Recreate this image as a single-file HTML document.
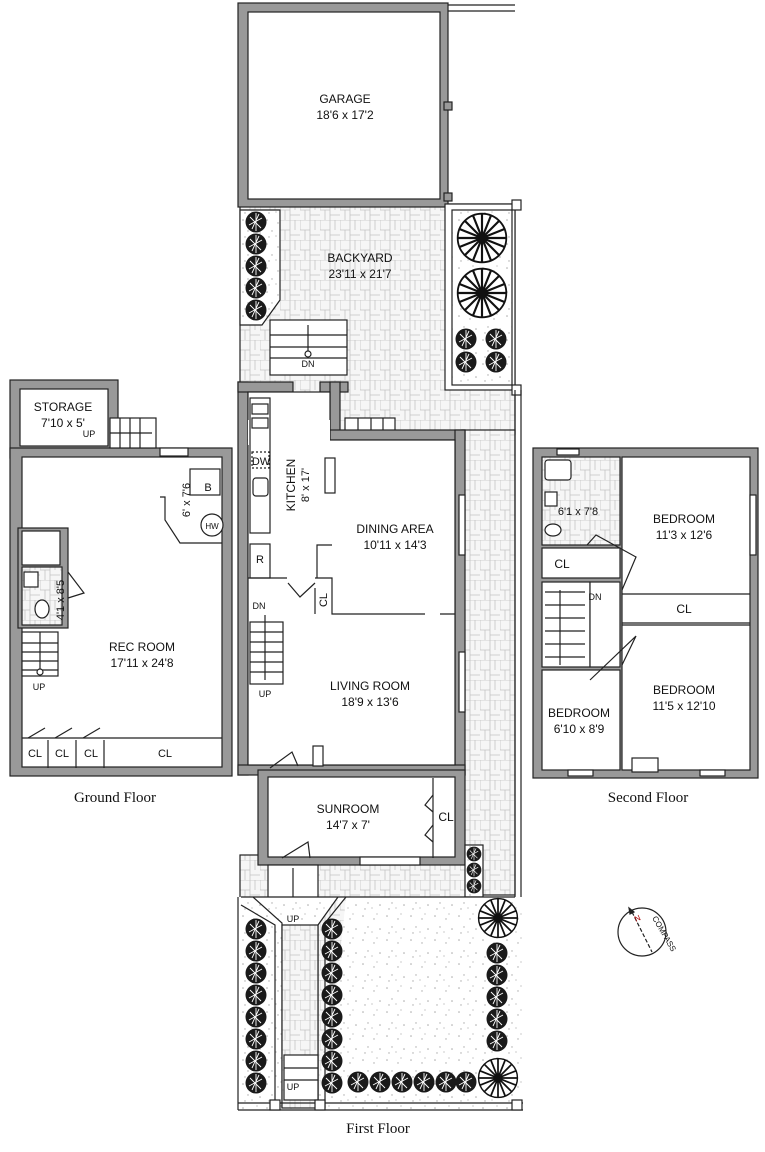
<!DOCTYPE html>
<html><head><meta charset="utf-8"><style>
html,body{margin:0;padding:0;background:#fff;}
svg{display:block;}
text{font-family:"Liberation Sans",Arial,sans-serif;fill:#111;}
.t{font-size:12px;text-anchor:middle;}
.s{font-size:11px;text-anchor:middle;}
.cap{font-family:"Liberation Serif",serif;font-size:15px;text-anchor:middle;}
</style></head><body>
<svg width="765" height="1152" viewBox="0 0 765 1152" xmlns="http://www.w3.org/2000/svg">
<defs>
<pattern id="pave" width="20" height="20" patternUnits="userSpaceOnUse">
<rect width="20" height="20" fill="#f6f6f6"/>
<path d="M0 0H20M0 10H10M10 0V20M0 0V10M5 10V20M10 15H20M15 0V10" stroke="#c4c4c4" stroke-width="0.8" fill="none"/>
</pattern>
<pattern id="grav" width="24" height="24" patternUnits="userSpaceOnUse">
<rect width="24" height="24" fill="#fff"/>
<g fill="#aaa"><circle cx="3" cy="4" r="0.8"/><circle cx="14" cy="7" r="0.7"/><circle cx="20" cy="17" r="0.8"/><circle cx="8" cy="15" r="0.7"/><circle cx="17" cy="2" r="0.6"/><circle cx="5" cy="21" r="0.7"/><circle cx="12" cy="20" r="0.6"/></g>
</pattern>
<g id="sh"><circle r="10.5" fill="#1a1a1a"/><path d="M-6-5L5 6M-7 3L6-4M0-9V9M-4 7L3-8" stroke="#fff" stroke-width="0.9"/></g>
<g id="tr"><circle r="27" fill="#fff" stroke="#111" stroke-width="2"/><path d="M0-27V27M-27 0H27M-19-19L19 19M-19 19L19-19M-10-25L10 25M-25-10L25 10M-25 10L25-10M-10 25L10-25" stroke="#111" stroke-width="2.4"/></g>
</defs>
<g stroke="#222" stroke-width="1.2">

<rect x="240" y="204" width="275" height="230" fill="url(#pave)"/>
<rect x="462" y="430" width="53" height="465" fill="url(#pave)"/>
<rect x="240" y="855" width="230" height="45" fill="url(#pave)"/>
<rect x="238" y="3" width="210" height="204" fill="#999"/>
<rect x="248" y="12" width="192" height="187" fill="#fff"/>
<line x1="448" y1="5" x2="515" y2="5"/>
<line x1="448" y1="11" x2="515" y2="11"/>
<rect x="444" y="102" width="8" height="8" fill="#999"/>
<rect x="444" y="193" width="8" height="8" fill="#999"/>
<path d="M240 210H280V300L262 325H240Z" fill="url(#grav)"/>
<rect x="445" y="204" width="70" height="186" fill="#fff"/>
<rect x="452" y="210" width="60" height="175" fill="url(#grav)"/>
<rect x="512" y="200" width="9" height="10" fill="#fff"/>
<rect x="512" y="385" width="9" height="10" fill="#fff"/>
<line x1="515" y1="390" x2="515" y2="1110"/>
<line x1="521" y1="390" x2="521" y2="1110"/>
<rect x="270" y="320" width="77" height="55" fill="#fff"/>
<path d="M270 335H347M270 347H347M270 358H347" fill="none"/>
<line x1="308" y1="325" x2="308" y2="356"/>
<circle cx="308" cy="354" r="3" fill="#fff"/>
<rect x="345" y="418" width="50" height="32" fill="#fff"/>
<path d="M358 418V450M371 418V450M383 418V450" fill="none"/>

<rect x="238" y="382" width="10" height="393" fill="#999"/>
<rect x="238" y="382" width="55" height="10" fill="#999"/>
<rect x="320" y="382" width="28" height="10" fill="#999"/>
<rect x="330" y="382" width="10" height="60" fill="#999"/>
<rect x="330" y="430" width="135" height="10" fill="#999"/>
<rect x="455" y="430" width="10" height="345" fill="#999"/>
<rect x="238" y="765" width="227" height="10" fill="#999"/>
<rect x="248" y="392" width="82" height="48" fill="#fff"/>
<rect x="248" y="440" width="207" height="325" fill="#fff"/>
<rect x="248" y="420" width="82" height="25" fill="#fff" stroke="none"/>
<rect x="459" y="495" width="6" height="60" fill="#fff"/>
<rect x="459" y="652" width="6" height="60" fill="#fff"/>
<rect x="250" y="398" width="20" height="135" fill="#fff"/>
<rect x="250" y="544" width="20" height="34" fill="#fff"/>
<rect x="252" y="452" width="17" height="16" fill="#fff" stroke-dasharray="2 2"/>
<rect x="253" y="478" width="15" height="18" fill="#fff" rx="3"/>
<rect x="252" y="404" width="16" height="10" fill="#fff"/><rect x="252" y="418" width="16" height="10" fill="#fff"/>
<rect x="325" y="458" width="10" height="35" fill="#fff"/>
<path d="M248 578H287M315 578H332V614H425M440 614H455" fill="none"/>
<path d="M332 545H317V578" fill="none"/>
<path d="M315 588V614" fill="none"/>
<rect x="250" y="622" width="33" height="62" fill="#fff"/>
<path d="M250 632H283M250 642H283M250 652H283M250 662H283M250 672H283" fill="none"/>
<line x1="265" y1="615" x2="265" y2="680"/>
<path d="M288 583L300 597L315 583" fill="none"/>
<path d="M270 768L292 752L298 766" fill="none"/>
<rect x="313" y="746" width="10" height="20" fill="#fff"/>

<rect x="258" y="770" width="207" height="95" fill="#999"/>
<rect x="268" y="777" width="187" height="80" fill="#fff"/>
<path d="M433 778V858" fill="none"/>
<path d="M433 795L425 805L433 812M433 825L425 835L433 842" fill="none"/>
<rect x="360" y="857" width="60" height="8" fill="#fff"/>
<path d="M282 858L308 842L310 858" fill="none"/>
<rect x="268" y="865" width="50" height="43" fill="#fff"/>
<line x1="293" y1="868" x2="293" y2="905"/>
<circle cx="293" cy="905" r="3" fill="#fff"/>
<rect x="465" y="845" width="18" height="52" fill="url(#grav)"/>
<rect x="238" y="897" width="285" height="213" fill="url(#grav)" stroke="none"/>
<path d="M241 905L275 925V1108M282 1108V923L253 897" fill="none"/>
<path d="M325 1108V923L346 897M318 1108V925L338 897" fill="url(#pave)"/>
<rect x="282" y="925" width="36" height="183" fill="url(#pave)"/>
<path d="M241 897H515" fill="none"/>
<rect x="284" y="1055" width="34" height="45" fill="#fff"/>
<path d="M284 1068H318M284 1080H318" fill="none"/>
<line x1="238" y1="1103" x2="523" y2="1103"/>
<line x1="238" y1="1110" x2="523" y2="1110"/>
<line x1="238" y1="897" x2="238" y2="1110"/>
<rect x="270" y="1100" width="10" height="10" fill="#fff"/>
<rect x="315" y="1100" width="10" height="10" fill="#fff"/>
<rect x="512" y="1100" width="10" height="10" fill="#fff"/>
</g>

<use href="#sh" x="256" y="222"/><use href="#sh" x="256" y="244"/><use href="#sh" x="256" y="266"/><use href="#sh" x="256" y="288"/><use href="#sh" x="256" y="310"/>
<use href="#sh" x="466" y="339"/><use href="#sh" x="496" y="339"/><use href="#sh" x="466" y="362"/><use href="#sh" x="496" y="362"/>
<use href="#tr" transform="translate(482 238) scale(0.9)"/>
<use href="#tr" transform="translate(482 293) scale(0.9)"/>
<use href="#sh" transform="translate(474 854) scale(0.7)"/>
<use href="#sh" transform="translate(474 870) scale(0.7)"/>
<use href="#sh" transform="translate(474 886) scale(0.7)"/>
<g>
<use href="#sh" x="256" y="929"/><use href="#sh" x="256" y="951"/><use href="#sh" x="256" y="973"/><use href="#sh" x="256" y="995"/><use href="#sh" x="256" y="1017"/><use href="#sh" x="256" y="1039"/><use href="#sh" x="256" y="1061"/><use href="#sh" x="256" y="1083"/>
<use href="#sh" x="332" y="929"/><use href="#sh" x="332" y="951"/><use href="#sh" x="332" y="973"/><use href="#sh" x="332" y="995"/><use href="#sh" x="332" y="1017"/><use href="#sh" x="332" y="1039"/><use href="#sh" x="332" y="1061"/><use href="#sh" x="332" y="1083"/>
<use href="#sh" x="358" y="1082"/><use href="#sh" x="380" y="1082"/><use href="#sh" x="402" y="1082"/><use href="#sh" x="424" y="1082"/><use href="#sh" x="446" y="1082"/><use href="#sh" x="466" y="1082"/>
<use href="#sh" x="497" y="953"/><use href="#sh" x="497" y="975"/><use href="#sh" x="497" y="997"/><use href="#sh" x="497" y="1019"/><use href="#sh" x="497" y="1041"/>
</g>
<use href="#tr" transform="translate(498 918) scale(0.72)"/>
<use href="#tr" transform="translate(498 1078) scale(0.72)"/>
<text class="t" x="345" y="103">GARAGE</text><text class="t" x="345" y="119">18'6 x 17'2</text>
<text class="t" x="360" y="262">BACKYARD</text><text class="t" x="360" y="278">23'11 x 21'7</text>
<text class="s" x="308" y="367" style="font-size:9px">DN</text>
<text class="t" x="295" y="485" transform="rotate(-90 295 485)">KITCHEN</text>
<text class="s" x="309" y="485" transform="rotate(-90 309 485)">8' x 17'</text>
<text class="s" x="261" y="465">DW</text><text class="s" x="260" y="563">R</text>
<text class="t" x="395" y="533">DINING AREA</text><text class="t" x="395" y="549">10'11 x 14'3</text>
<text class="s" x="327" y="600" transform="rotate(-90 327 600)">CL</text>
<text class="s" x="259" y="609" style="font-size:9px">DN</text><text class="s" x="265" y="697" style="font-size:9px">UP</text>
<text class="t" x="370" y="690">LIVING ROOM</text><text class="t" x="370" y="706">18'9 x 13'6</text>
<text class="t" x="348" y="813">SUNROOM</text><text class="t" x="348" y="829">14'7 x 7'</text>
<text class="t" x="446" y="821">CL</text>
<text class="s" x="293" y="922" style="font-size:9px">UP</text><text class="s" x="293" y="1090" style="font-size:9px">UP</text>
<text class="cap" x="378" y="1133">First Floor</text>

<g stroke="#222" stroke-width="1.2">
<rect x="10" y="380" width="108" height="78" fill="#999"/>
<rect x="10" y="448" width="222" height="328" fill="#999"/>
<rect x="20" y="389" width="88" height="57" fill="#fff"/>
<rect x="22" y="457" width="200" height="310" fill="#fff"/>
<rect x="110" y="418" width="46" height="30" fill="#fff"/>
<path d="M120 418V448M130 418V448M140 418V448" fill="none"/>
<line x1="110" y1="433" x2="152" y2="433"/>
<rect x="160" y="448" width="28" height="8" fill="#fff"/>
<rect x="190" y="469" width="30" height="26" fill="#fff"/>
<path d="M160 497H165V520L180 543H222" fill="none"/>
<circle cx="212" cy="525" r="11" fill="#fff"/>
<rect x="18" y="528" width="50" height="100" fill="#999"/>
<rect x="22" y="531" width="38" height="34" fill="#fff"/>
<rect x="22" y="567" width="40" height="58" fill="url(#pave)"/>
<rect x="24" y="572" width="14" height="15" fill="#fff"/>
<ellipse cx="42" cy="609" rx="7" ry="9" fill="#fff"/>
<path d="M68 572L84 593L68 598" fill="none"/>
<rect x="22" y="632" width="36" height="44" fill="#fff"/>
<path d="M22 643H58M22 652H58M22 661H58M22 670H58" fill="none"/>
<line x1="40" y1="632" x2="40" y2="672"/>
<circle cx="40" cy="672" r="3" fill="#fff"/>
<path d="M22 738H222" fill="none"/>
<path d="M48 740V768M76 740V768M104 740V768" fill="none"/>
<path d="M28 738L45 728M55 738L72 728M83 738L100 728" fill="none"/>
</g>
<text class="t" x="63" y="411">STORAGE</text><text class="t" x="63" y="427">7'10 x 5'</text>
<text class="s" x="89" y="437" style="font-size:9px">UP</text>
<text class="s" x="208" y="491">B</text>
<text class="s" x="212" y="529" style="font-size:8px">HW</text>
<text class="s" x="190" y="500" transform="rotate(-90 190 500)">6' x 7'6</text>
<text class="s" x="64" y="600" transform="rotate(-90 64 600)">4'1 x 8'5</text>
<text class="s" x="39" y="690" style="font-size:9px">UP</text>
<text class="t" x="142" y="651">REC ROOM</text><text class="t" x="142" y="667">17'11 x 24'8</text>
<text class="s" x="35" y="757">CL</text><text class="s" x="62" y="757">CL</text><text class="s" x="91" y="757">CL</text><text class="s" x="165" y="757">CL</text>
<text class="cap" x="115" y="802">Ground Floor</text>

<g stroke="#222" stroke-width="1.2">
<rect x="533" y="448" width="225" height="330" fill="#999"/>
<rect x="542" y="457" width="78" height="88" fill="url(#pave)"/>
<rect x="622" y="457" width="128" height="313" fill="#fff"/>
<rect x="542" y="548" width="78" height="30" fill="#fff"/>
<rect x="542" y="582" width="48" height="85" fill="#fff"/>
<rect x="590" y="582" width="30" height="85" fill="#fff"/>
<rect x="542" y="670" width="78" height="100" fill="#fff"/>
<line x1="622" y1="594" x2="750" y2="594"/>
<line x1="622" y1="625" x2="750" y2="625"/>
<line x1="622" y1="623" x2="750" y2="623"/>
<rect x="545" y="460" width="26" height="20" rx="3" fill="#fff"/>
<rect x="545" y="492" width="12" height="14" fill="#fff"/>
<ellipse cx="553" cy="530" rx="8" ry="6" fill="#fff"/>
<path d="M545 592H585M545 605H585M545 618H585M545 631H585M545 644H585M545 657H585" fill="none"/>
<line x1="560" y1="590" x2="560" y2="665"/>
<path d="M587 545L596 535L636 557L622 590M622 665L636 636L590 680" fill="none"/>
<rect x="557" y="449" width="22" height="6" fill="#fff"/>
<rect x="750" y="495" width="6" height="60" fill="#fff"/>
<rect x="568" y="770" width="25" height="6" fill="#fff"/>
<rect x="632" y="758" width="26" height="14" fill="#fff"/>
<rect x="700" y="770" width="25" height="6" fill="#fff"/>
</g>
<text class="s" x="578" y="515">6'1 x 7'8</text>
<text class="t" x="562" y="568">CL</text>
<text class="s" x="595" y="600" style="font-size:9px">DN</text>
<text class="t" x="684" y="523">BEDROOM</text><text class="t" x="684" y="539">11'3 x 12'6</text>
<text class="t" x="684" y="613">CL</text>
<text class="t" x="684" y="694">BEDROOM</text><text class="t" x="684" y="710">11'5 x 12'10</text>
<text class="t" x="579" y="717">BEDROOM</text><text class="t" x="579" y="733">6'10 x 8'9</text>
<text class="cap" x="648" y="802">Second Floor</text>

<g stroke="#222" stroke-width="1.2" fill="none">
<circle cx="642" cy="932" r="24" fill="#fff"/>
<line x1="632" y1="912" x2="652" y2="952" stroke-dasharray="4 2"/>
<path d="M629 908L634 912L630 914Z" fill="#222"/>
</g>
<text x="636" y="922" style="font-size:8px;fill:#a00" transform="rotate(-25 636 922)">N</text>
<text x="652" y="918" style="font-size:8px" transform="rotate(60 652 918)">COMPASS</text>
</svg>
</body></html>
